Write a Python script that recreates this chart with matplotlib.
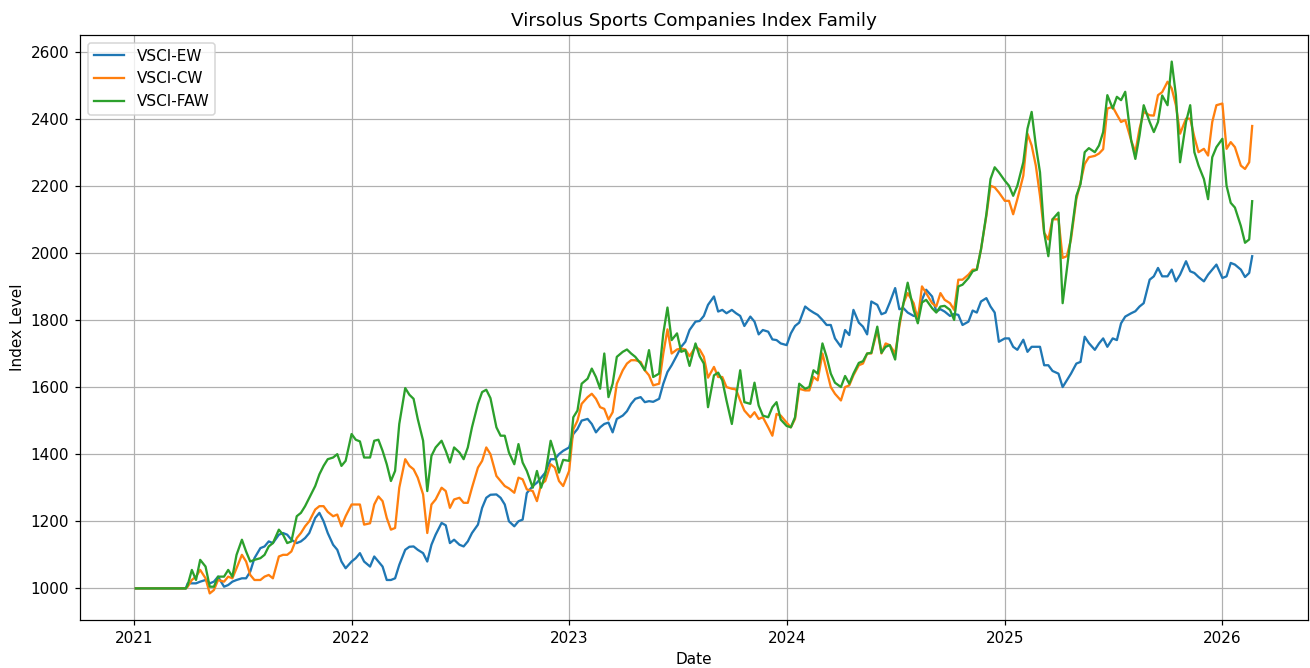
import numpy as np
import pandas as pd
import matplotlib
matplotlib.use("Agg")
import matplotlib.pyplot as plt

# --- sampling dates: flat start, then the 1st / 8th / 15th / 22nd of each month ---
start_dates = ["2021-01-04", "2021-03-29"]
months = pd.period_range("2021-04", "2026-02", freq="M")
sample_days = [1, 8, 15, 22]
grid_dates = []
for m in months:
    for d in sample_days:
        if m == months[-1] and d > 15:
            continue
        grid_dates.append(f"{m.year}-{m.month:02d}-{d:02d}")
end_dates = ["2026-02-20"]
dates = pd.to_datetime(start_dates + grid_dates + end_dates)

# --- index levels (one row = one month: 1st, 8th, 15th, 22nd) ---
flat_start = [1000, 1000]

ew_values = flat_start + [
    # 2021 Apr-Dec
    1015, 1015, 1015, 1020,  1025, 1015, 1020, 1035,  1005, 1010, 1020, 1025,
    1030, 1030, 1050, 1090,  1120, 1125, 1140, 1135,  1160, 1165, 1160, 1145,
    1135, 1140, 1150, 1165,  1210, 1225, 1200, 1165,  1130, 1115, 1080, 1060,
    # 2022
    1080, 1090, 1105, 1080,  1065, 1095, 1080, 1065,  1025, 1025, 1030, 1070,
    1115, 1124, 1125, 1115,  1105, 1080, 1130, 1160,  1195, 1188, 1135, 1145,
    1130, 1125, 1140, 1165,  1190, 1240, 1270, 1279,  1280, 1270, 1250, 1200,
    1185, 1200, 1205, 1284,  1305, 1315, 1330, 1345,  1385, 1385, 1400, 1410,
    # 2023
    1420, 1460, 1475, 1500,  1505, 1490, 1465, 1480,  1490, 1494, 1465, 1505,
    1515, 1528, 1550, 1565,  1570, 1555, 1558, 1556,  1565, 1610, 1645, 1665,
    1695, 1720, 1735, 1770,  1795, 1797, 1812, 1845,  1870, 1825, 1830, 1820,
    1830, 1820, 1812, 1782,  1810, 1795, 1757, 1770,  1765, 1742, 1740, 1730,
    # 2024
    1725, 1760, 1782, 1792,  1840, 1830, 1822, 1815,  1800, 1785, 1785, 1745,
    1720, 1770, 1755, 1830,  1792, 1780, 1757, 1855,  1845, 1817, 1822, 1852,
    1895, 1832, 1835, 1822,  1812, 1812, 1860, 1890,  1870, 1825, 1832, 1825,
    1812, 1818, 1815, 1785,  1795, 1828, 1822, 1855,  1865, 1840, 1822, 1735,
    # 2025
    1745, 1745, 1720, 1711,  1741, 1705, 1720, 1720,  1720, 1665, 1665, 1648,
    1640, 1600, 1620, 1640,  1670, 1675, 1750, 1731,  1711, 1730, 1745, 1720,
    1745, 1740, 1790, 1810,  1820, 1826, 1840, 1850,  1920, 1930, 1955, 1930,
    1930, 1950, 1915, 1935,  1975, 1945, 1940, 1928,  1915, 1935, 1950, 1965,
    # 2026 Jan-Feb
    1925, 1930, 1970, 1965,  1950, 1928, 1940,
    1990,
]

cw_values = flat_start + [
    # 2021 Apr-Dec
    1005, 1025, 1035, 1055,  1030, 985, 995, 1025,    1020, 1035, 1030, 1060,
    1100, 1080, 1040, 1025,  1025, 1035, 1040, 1030,  1095, 1100, 1100, 1110,
    1150, 1165, 1185, 1200,  1235, 1245, 1245, 1228,  1215, 1220, 1185, 1215,
    # 2022
    1250, 1250, 1250, 1190,  1194, 1250, 1274, 1260,  1210, 1175, 1180, 1300,
    1385, 1365, 1355, 1330,  1280, 1165, 1250, 1265,  1300, 1290, 1240, 1265,
    1270, 1255, 1255, 1300,  1360, 1380, 1420, 1400,  1335, 1320, 1305, 1298,
    1285, 1330, 1325, 1295,  1290, 1260, 1310, 1320,  1370, 1360, 1320, 1305,
    # 2023
    1350, 1474, 1500, 1550,  1570, 1580, 1565, 1540,  1535, 1503, 1525, 1610,
    1650, 1670, 1680, 1680,  1675, 1650, 1635, 1605,  1610, 1700, 1772, 1700,
    1712, 1715, 1712, 1692,  1720, 1712, 1690, 1628,  1660, 1630, 1630, 1600,
    1595, 1593, 1560, 1530,  1510, 1525, 1505, 1510,  1480, 1455, 1520, 1515,
    # 2024
    1494, 1480, 1505, 1595,  1590, 1590, 1630, 1620,  1700, 1650, 1600, 1580,
    1560, 1600, 1605, 1635,  1665, 1670, 1700, 1700,  1770, 1700, 1730, 1725,
    1700, 1780, 1850, 1880,  1850, 1800, 1900, 1880,  1850, 1840, 1880, 1860,
    1850, 1830, 1920, 1920,  1935, 1950, 1950, 2010,  2110, 2200, 2195, 2180,
    # 2025
    2155, 2155, 2115, 2160,  2230, 2355, 2320, 2260,  2170, 2060, 2040, 2100,
    2100, 1985, 1990, 2040,  2160, 2210, 2265, 2285,  2289, 2296, 2309, 2430,
    2435, 2412, 2390, 2396,  2335, 2300, 2370, 2420,  2410, 2409, 2470, 2479,
    2510, 2490, 2440, 2355,  2400, 2400, 2345, 2300,  2310, 2290, 2390, 2440,
    # 2026 Jan-Feb
    2445, 2310, 2330, 2315,  2260, 2250, 2270,
    2378,
]

faw_values = flat_start + [
    # 2021 Apr-Dec
    1010, 1055, 1025, 1085,  1065, 1005, 1005, 1035,  1035, 1055, 1035, 1100,
    1145, 1110, 1080, 1085,  1090, 1100, 1125, 1135,  1175, 1160, 1135, 1140,
    1215, 1225, 1245, 1270,  1305, 1340, 1365, 1385,  1390, 1400, 1365, 1380,
    # 2022
    1460, 1443, 1438, 1390,  1390, 1440, 1443, 1410,  1370, 1320, 1350, 1490,
    1597, 1577, 1565, 1505,  1440, 1290, 1395, 1420,  1440, 1410, 1375, 1420,
    1405, 1385, 1420, 1480,  1550, 1585, 1592, 1567,  1480, 1455, 1455, 1405,
    1370, 1430, 1375, 1350,  1300, 1350, 1300, 1340,  1440, 1400, 1345, 1383,
    # 2023
    1380, 1510, 1530, 1610,  1625, 1655, 1630, 1595,  1700, 1570, 1610, 1690,
    1705, 1712, 1700, 1690,  1670, 1650, 1710, 1630,  1640, 1760, 1837, 1740,
    1760, 1705, 1710, 1663,  1730, 1692, 1670, 1540,  1635, 1643, 1620, 1560,
    1490, 1570, 1650, 1555,  1550, 1613, 1545, 1515,  1510, 1540, 1555, 1503,
    # 2024
    1484, 1480, 1510, 1610,  1595, 1600, 1650, 1640,  1730, 1690, 1640, 1613,
    1600, 1633, 1610, 1640,  1672, 1677, 1700, 1702,  1780, 1702, 1720, 1725,
    1682, 1790, 1850, 1911,  1830, 1790, 1852, 1860,  1835, 1822, 1840, 1842,
    1830, 1800, 1900, 1905,  1925, 1945, 1950, 2010,  2115, 2220, 2255, 2240,
    # 2025
    2215, 2200, 2170, 2200,  2270, 2370, 2420, 2320,  2240, 2060, 1990, 2100,
    2120, 1850, 1950, 2050,  2170, 2205, 2300, 2312,  2300, 2320, 2360, 2470,
    2430, 2465, 2455, 2480,  2335, 2280, 2350, 2440,  2390, 2360, 2390, 2469,
    2440, 2570, 2470, 2270,  2390, 2440, 2300, 2260,  2220, 2160, 2285, 2315,
    # 2026 Jan-Feb
    2340, 2200, 2149, 2135,  2080, 2030, 2040,
    2154,
]

series_names = ["VSCI-EW", "VSCI-CW", "VSCI-FAW"]

DPI = 110
fig, ax = plt.subplots(figsize=(1310 / DPI, 668 / DPI), dpi=DPI)
fig.subplots_adjust(left=80 / 1310, right=1308 / 1310, top=1 - 35 / 668, bottom=1 - 620 / 668)

for name, values in zip(series_names, [ew_values, cw_values, faw_values]):
    ax.plot(dates, values, label=name, linewidth=1.5)

ax.set_title("Virsolus Sports Companies Index Family")
ax.set_xlabel("Date")
ax.set_ylabel("Index Level")
ax.legend(loc="upper left")
ax.grid(True)

fig.savefig("out.png", dpi=DPI)
